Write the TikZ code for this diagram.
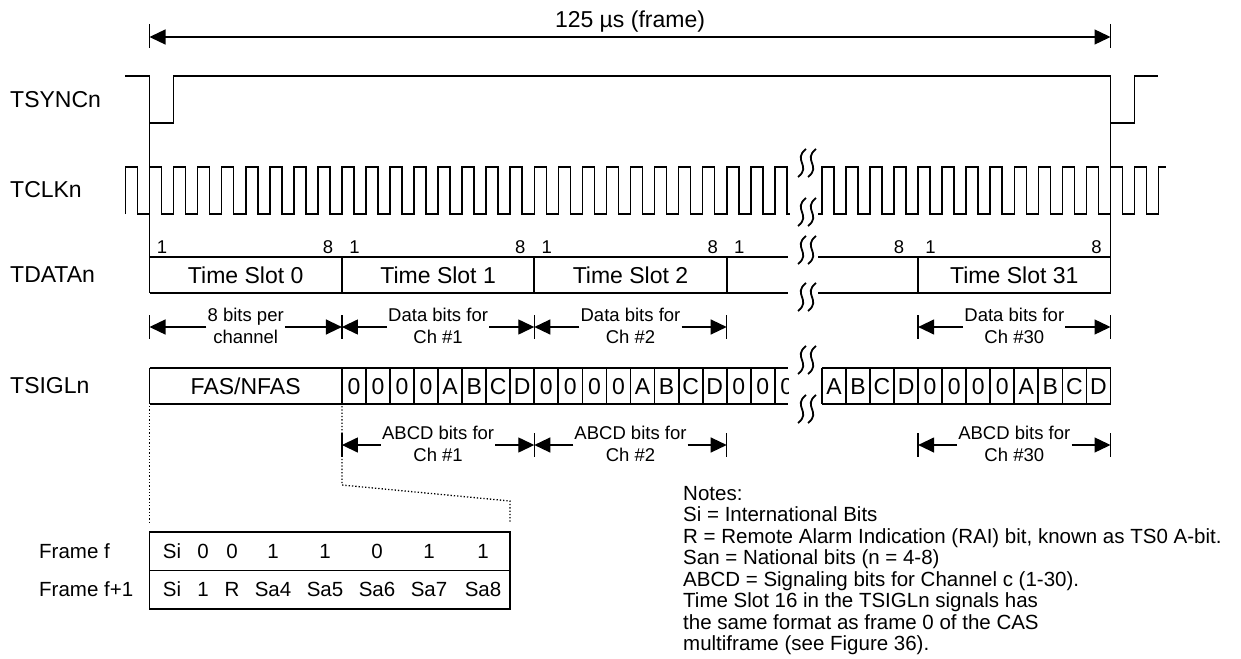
\documentclass[tikz,border=0pt]{standalone}
\usepackage{fontspec}
\setmainfont{Liberation Sans}
\usetikzlibrary{arrows.meta,calc}
\newcommand{\dimar}[5]{%
  \coordinate (#1a) at (#2,#4);
  \coordinate (#1b) at (#3,#4);
  \draw[tickl] ($(#1a)+(0,-12)$) -- ($(#1a)+(0,12)$);
  \draw[tickl] ($(#1b)+(0,-12)$) -- ($(#1b)+(0,12)$);
  \node[small] (#1t) at ($(#1a)!0.5!(#1b)+(0,-1)$) {#5};
  \draw[dimarrow] (#1t.west |- #1a) -- (#1a);
  \draw[dimarrow] (#1t.east |- #1b) -- (#1b);
}
\newcommand{\squig}[3]{%
  \coordinate (#1) at (#2,#3);
  \draw[brk] ($(#1)+(-1,-14)$) .. controls ($(#1)+(-15,-3)$) and ($(#1)+(5,3)$) .. ($(#1)+(-9,14)$);
  \draw[brk] ($(#1)+(9,-14)$) .. controls ($(#1)+(-5,-3)$) and ($(#1)+(15,3)$) .. ($(#1)+(1,14)$);
}
\tikzset{
  sig/.style={line width=1.6pt, line join=miter},
  boxl/.style={line width=1.8pt},
  thinl/.style={line width=1.3pt},
  tickl/.style={line width=1.3pt},
  lab/.style={font=\fontsize{23}{26}\selectfont, anchor=west, inner sep=0pt},
  big/.style={font=\fontsize{23}{26}\selectfont, inner sep=0pt},
  small/.style={font=\fontsize{18.5}{22}\selectfont, align=center, inner sep=1pt},
  num/.style={font=\fontsize{18.5}{20}\selectfont, inner sep=0pt},
  tbl/.style={font=\fontsize{20.5}{23}\selectfont, inner sep=0pt},
  dimarrow/.style={line width=1.3pt, -{Triangle[length=16pt,width=15pt]}},
  brk/.style={line width=1.8pt},
  dots/.style={line width=1.3pt, dotted},
}
\begin{document}
\begin{tikzpicture}[x=1pt,y=-1pt]
\useasboundingbox (0,0) rectangle (1241,658);
\def\w{24.05}
\def\xa{149.5}
\def\xr{821.9}
% ---------- frame arrow ----------
\coordinate (fa) at (149.5,37);
\coordinate (fb) at (1110.5,37);
\draw[tickl] (149.5,24) -- (149.5,48);
\draw[tickl] (1110.5,24) -- (1110.5,48);
\node[big] (ftitle) at (630,22) {125 µs (frame)};
\draw[thinl,{Triangle[length=16pt,width=15pt]}-{Triangle[length=16pt,width=15pt]}] (fa) -- (fb);
% ---------- labels ----------
\node[lab] (l1) at (10,100) {TSYNCn};
\node[lab] (l2) at (10,190) {TCLKn};
\node[lab] (l3) at (10,275) {TDATAn};
\node[lab] (l4) at (10,386) {TSIGLn};
% ---------- TSYNC ----------
\draw[sig] (125,76) -- (149.5,76) -- (149.5,123) -- (173.5,123) -- (173.5,76)
  -- (1110.5,76) -- (1110.5,123) -- (1134.5,123) -- (1134.5,76) -- (1158,76);
\draw[thinl] (149.5,123) -- (149.5,257);
\draw[thinl] (1110.5,123) -- (1110.5,257);
% ---------- TCLK ----------
\draw[sig] (125.45,214) \foreach \k in {0,...,27} {
   -- ({125.45+\k*\w},214) -- ({125.45+\k*\w},167) -- ({125.45+\k*\w+\w/2},167) -- ({125.45+\k*\w+\w/2},214) } -- (790,214);
\draw[sig] (818,214) \foreach \k in {0,...,13} {
   -- ({\xr+\k*\w},214) -- ({\xr+\k*\w},167) -- ({\xr+\k*\w+\w/2},167) -- ({\xr+\k*\w+\w/2},214) }
   -- ({\xr+14*\w},214) -- ({\xr+14*\w},167) -- (1166,167);
% ---------- bit numbers ----------
\foreach \s [count=\i] in {0,1,2} {
  \node[num] (one\i) at ({\xa+\s*8*\w+12.5},247) {1};
  \node[num] (eight\i) at ({\xa+(\s+1)*8*\w-14},247) {8};
}
\node[num] (one4) at ({\xa+24*\w+12.5},247) {1};
\node[num] (eight5) at ({\xr+4*\w-19},247) {8};
\node[num] (one6) at ({\xr+4*\w+12.5},247) {1};
\node[num] (eight6) at (1096.5,247) {8};
% ---------- TDATA ----------
\draw[boxl] (149.5,257) -- (788,257);
\draw[boxl] (149.5,293) -- (788,293);
\foreach \s in {0,1,2,3} { \draw[boxl] ({\xa+\s*8*\w},257) -- ({\xa+\s*8*\w},293); }
\draw[boxl] (818,257) -- (1110.5,257);
\draw[boxl] (818,293) -- (1110.5,293);
\draw[boxl] ({\xr+4*\w},257) -- ({\xr+4*\w},293);
\draw[boxl] (1110.5,257) -- (1110.5,293);
\node[big] (ts0) at ({\xa+4*\w},275) {Time Slot 0};
\node[big] (ts1) at ({\xa+12*\w},275) {Time Slot 1};
\node[big] (ts2) at ({\xa+20*\w},275) {Time Slot 2};
\node[big] (ts31) at ({\xr+8*\w},275) {Time Slot 31};
% ---------- dimension arrows (data) ----------
\dimar{d0}{149.5}{341.9}{327}{8 bits per\\channel}
\dimar{d1}{341.9}{534.3}{327}{Data bits for\\Ch \#1}
\dimar{d2}{534.3}{726.7}{327}{Data bits for\\Ch \#2}
\dimar{d3}{918.1}{1110.5}{327}{Data bits for\\Ch \#30}
% ---------- TSIGL ----------
\draw[boxl] (149.5,368) -- (788,368);
\draw[boxl] (149.5,404) -- (788,404);
\draw[boxl] (149.5,368) -- (149.5,404);
\node[big] (fas) at ({\xa+4*\w},386) {FAS/NFAS};
\begin{scope}
\clip (149,360) rectangle (788,412);
\foreach \c [count=\i from 0] in {0,0,0,0,A,B,C,D,0,0,0,0,A,B,C,D,0,0,0} {
  \draw[boxl] ({341.9+\i*\w},368) -- ({341.9+\i*\w},404);
  \node[big] (sl\i) at ({341.9+\i*\w+\w/2},386.5) {\c};
}
\end{scope}
\draw[boxl] (\xr,368) -- (1110.5,368);
\draw[boxl] (\xr,404) -- (1110.5,404);
\foreach \c [count=\i from 0] in {A,B,C,D,0,0,0,0,A,B,C,D} {
  \draw[boxl] ({\xr+\i*\w},368) -- ({\xr+\i*\w},404);
  \node[big] (sr\i) at ({\xr+\i*\w+\w/2},386.5) {\c};
}
\draw[boxl] (1110.5,368) -- (1110.5,404);
% ---------- dimension arrows (signalling) ----------
\dimar{a1}{341.9}{534.3}{445}{ABCD bits for\\Ch \#1}
\dimar{a2}{534.3}{726.7}{445}{ABCD bits for\\Ch \#2}
\dimar{a3}{918.1}{1110.5}{445}{ABCD bits for\\Ch \#30}
% ---------- breaks ----------
\squig{q1}{807}{163}
\squig{q2}{807}{212}
\squig{q3}{807}{250}
\squig{q4}{807}{297}
\squig{q5}{807}{360}
\squig{q6}{807}{409}
% ---------- zoom dotted lines ----------
\coordinate (z1) at (149.5,406);
\coordinate (z2) at (149.5,523);
\coordinate (z3) at (341.9,406);
\coordinate (z4) at (341.9,485);
\coordinate (z5) at (510,501);
\coordinate (z6) at (510,523);
\draw[dots] (z1) -- (z2);
\draw[dots] (z3) -- (z4) -- (z5) -- (z6);
% ---------- frame table ----------
\draw[boxl] (149.5,532) rectangle (510,609);
\draw[boxl] (149.5,570.5) -- (510,570.5);
\node[tbl, anchor=west] (ff) at (39,551) {Frame f};
\node[tbl, anchor=west] (ff1) at (39,589) {Frame f+1};
\foreach \x/\a/\b [count=\i] in {172/Si/Si, 203/0/1, 232/0/R, 273/1/Sa4, 325/1/Sa5, 377/0/Sa6, 429/1/Sa7, 483/1/Sa8} {
  \node[tbl] (r1c\i) at (\x,551) {\a};
  \node[tbl] (r2c\i) at (\x,589) {\b};
}
% ---------- notes ----------
\node[font=\fontsize{20.5}{21.5}\selectfont, align=left, anchor=north west, inner sep=0pt] (notes) at (683,486) {Notes:\\
Si = International Bits\\
R = Remote Alarm Indication (RAI) bit, known as TS0 A-bit.\\
San = National bits (n = 4-8)\\
ABCD = Signaling bits for Channel c (1-30).\\
Time Slot 16 in the TSIGLn signals has\\
the same format as frame 0 of the CAS\\
multiframe (see Figure 36).};
\end{tikzpicture}
\end{document}
